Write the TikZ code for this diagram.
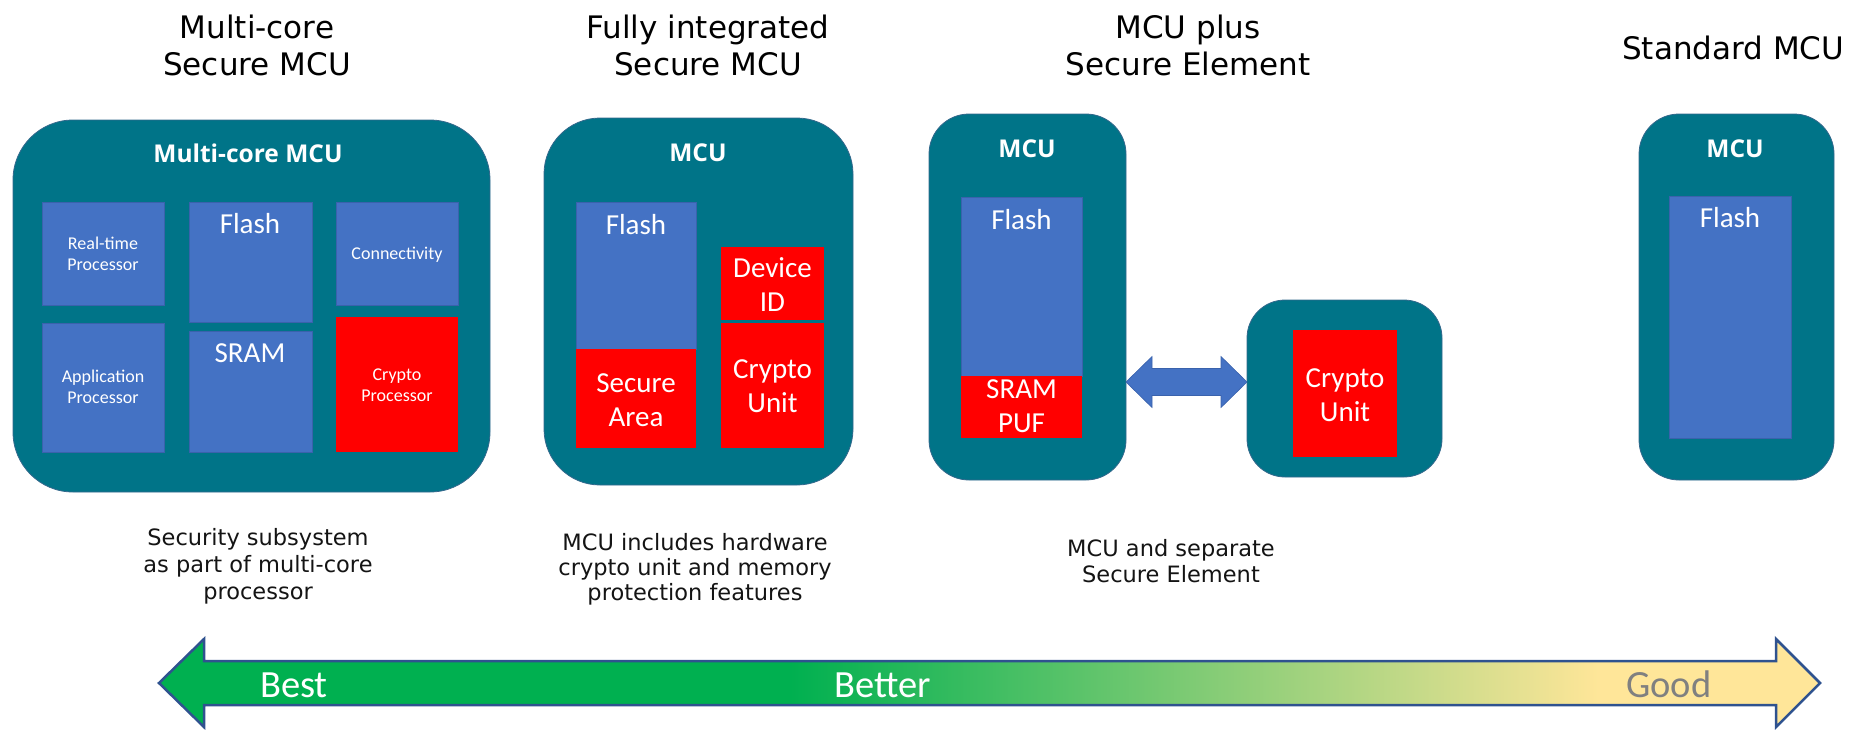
\documentclass[tikz,border=0pt]{standalone}
\usepackage{fontspec}
\setmainfont{DejaVu Sans}
\newfontfamily\carl{Carlito}
\newfontfamily\osans{Open Sans}
\usetikzlibrary{calc}

\definecolor{mcuteal}{RGB}{0,116,136}
\definecolor{mcuedge}{RGB}{52,104,140}
\definecolor{blkblue}{RGB}{68,114,196}
\definecolor{blkedge}{RGB}{58,98,172}
\definecolor{secred}{RGB}{255,0,0}
\definecolor{arrowedge}{RGB}{47,82,143}
\definecolor{bestgreen}{RGB}{0,176,80}
\definecolor{goodyellow}{RGB}{255,230,153}
\definecolor{goodgray}{RGB}{128,128,128}
\definecolor{captext}{RGB}{20,20,20}

% green-to-yellow fill of the security scale
\pgfdeclarehorizontalshading{scaleshade}{100bp}{color(0bp)=(bestgreen); color(44bp)=(bestgreen); color(68.4bp)=(goodyellow); color(100bp)=(goodyellow)}

% rectangular block from its top-left and bottom-right corners
\newcommand\blk[6]{\node[#6, minimum width={#4-#2}, minimum height={#5-#3}] (#1) at ({#2},{#3}) {};}

\tikzset{
  mcubox/.style={fill=mcuteal, draw=mcuedge, line width=0.8pt, rounded corners=#1, inner sep=0pt, outer sep=0pt, anchor=north west},
  membox/.style={fill=blkblue, draw=blkedge, line width=0.6pt, inner sep=0pt, outer sep=0pt, anchor=north west},
  secbox/.style={fill=secred, inner sep=0pt, outer sep=0pt, anchor=north west},
  heading/.style={font=\fontsize{31}{37}\selectfont, text=black, inner sep=0pt, anchor=base},
  desc/.style={font=\fontsize{22.5}{27}\selectfont, text=captext, inner sep=0pt, anchor=base},
  mcutitle/.style={font=\osans\bfseries\fontsize{24.5}{29}\selectfont, text=white, inner sep=0pt},
  blklabel/.style={font=\carl\fontsize{29}{34}\selectfont, text=white, align=center, inner sep=0pt},
  smalllabel/.style={font=\carl\fontsize{18}{21}\selectfont, text=white, align=center, inner sep=0pt},
  scalelabel/.style={font=\carl\fontsize{38.5}{44}\selectfont, inner sep=0pt, anchor=base west},
  linkarrow/.style={fill=blkblue, draw=blkedge, line width=0.6pt},
}

\begin{document}
\begin{tikzpicture}[x=1pt, y=-1pt]
\useasboundingbox (0,0) rectangle (1854,729);

% ---------- headings ----------
\node[heading] (h1a) at (257,38) {Multi-core};
\node[heading] (h1b) at (257,75) {Secure MCU};
\node[heading] (h2a) at (708,38) {Fully integrated};
\node[heading] (h2b) at (708,75) {Secure MCU};
\node[heading] (h3a) at (1188,38) {MCU plus};
\node[heading] (h3b) at (1188,75) {Secure Element};
\node[heading, anchor=base west] (h4) at (1622,59) {Standard MCU};

% ---------- multi-core secure MCU ----------
\blk{mc}{13}{120}{490}{492}{mcubox=60pt}
\node[mcutitle] (mct) at (248,153) {Multi-core MCU};
\blk{rt}{42}{202}{164}{305}{membox}
\blk{fl1}{189}{202}{312}{322}{membox}
\blk{con}{336}{202}{458}{305}{membox}
\blk{app}{42}{323}{164}{452}{membox}
\blk{sram}{189}{331}{312}{452}{membox}
\blk{cpro}{336}{317}{458}{452}{secbox}
\node[smalllabel] (rtl) at (103,254) {Real-time\\Processor};
\node[blklabel] (fl1l) at (250,224) {Flash};
\node[smalllabel] (conl) at (397,255) {Connectivity};
\node[smalllabel] (appl) at (103,387) {Application\\Processor};
\node[blklabel] (sraml) at (250,353) {SRAM};
\node[smalllabel] (cprol) at (397,385) {Crypto\\Processor};

% ---------- fully integrated secure MCU ----------
\blk{fi}{544}{118}{853}{485}{mcubox=56pt}
\node[mcutitle] (fit) at (698,153) {MCU};
\blk{fl2}{576}{202}{696}{349}{membox}
\blk{sec}{576}{349}{696}{448}{secbox}
\blk{dev}{721}{247}{824}{320}{secbox}
\blk{cu2}{721}{323}{824}{448}{secbox}
\node[blklabel] (fl2l) at (636,225) {Flash};
\node[blklabel] (secl) at (636,400) {Secure\\Area};
\node[blklabel] (devl) at (772.5,285) {Device\\ID};
\node[blklabel] (cu2l) at (772.5,386) {Crypto\\Unit};

% ---------- MCU plus secure element ----------
\blk{mp}{929}{114}{1126}{480}{mcubox=40pt}
\node[mcutitle] (mpt) at (1027,149) {MCU};
\blk{fl3}{961}{197}{1082}{376}{membox}
\blk{puf}{961}{376}{1082}{438}{secbox}
\node[blklabel] (fl3l) at (1021.5,220) {Flash};
\node[blklabel] (pufl) at (1021.5,406) {SRAM\\PUF};

\blk{se}{1247}{300}{1442}{477}{mcubox=38pt}
\blk{cu3}{1293}{330}{1397}{457}{secbox}
\node[blklabel] (cu3l) at (1345,395) {Crypto\\Unit};

% link between MCU and secure element
\coordinate (lk) at (mp.east |- 0,382);
\coordinate (rk) at (se.west |- 0,382);
\path[linkarrow] (lk) -- ++(26,-25.5) -- ++(0,12) -- ($(rk)+(-26,-13.5)$) -- ++(0,-12)
  -- (rk) -- ++(-26,25.5) -- ++(0,-12) -- ($(lk)+(26,13.5)$) -- ++(0,12) -- cycle;

% ---------- standard MCU ----------
\blk{st}{1639}{114}{1834}{480}{mcubox=40pt}
\node[mcutitle] (stt) at (1735,149) {MCU};
\blk{fl5}{1669}{196}{1791}{438}{membox}
\node[blklabel] (fl5l) at (1730,218) {Flash};

% ---------- descriptions ----------
\node[desc] (d1a) at (258,545) {Security subsystem};
\node[desc] (d1b) at (258,572) {as part of multi-core};
\node[desc] (d1c) at (258,599) {processor};
\node[desc] (d2a) at (695,550) {MCU includes hardware};
\node[desc] (d2b) at (695,575) {crypto unit and memory};
\node[desc] (d2c) at (695,600) {protection features};
\node[desc] (d3a) at (1171,556) {MCU and separate};
\node[desc] (d3b) at (1171,582) {Secure Element};

% ---------- best / better / good scale ----------
\shadedraw[shading=scaleshade, draw=arrowedge, line width=2.5pt, line join=miter]
  (159,683) -- (204,639) -- (204,661) -- (1776,661) -- (1776,639) -- (1820,683)
  -- (1776,727) -- (1776,705) -- (204,705) -- (204,727) -- cycle;
\node[scalelabel, text=white] (best) at (260,697) {Best};
\node[scalelabel, text=white] (better) at (834,697) {Better};
\node[scalelabel, text=goodgray] (good) at (1626,697) {Good};
\end{tikzpicture}
\end{document}
